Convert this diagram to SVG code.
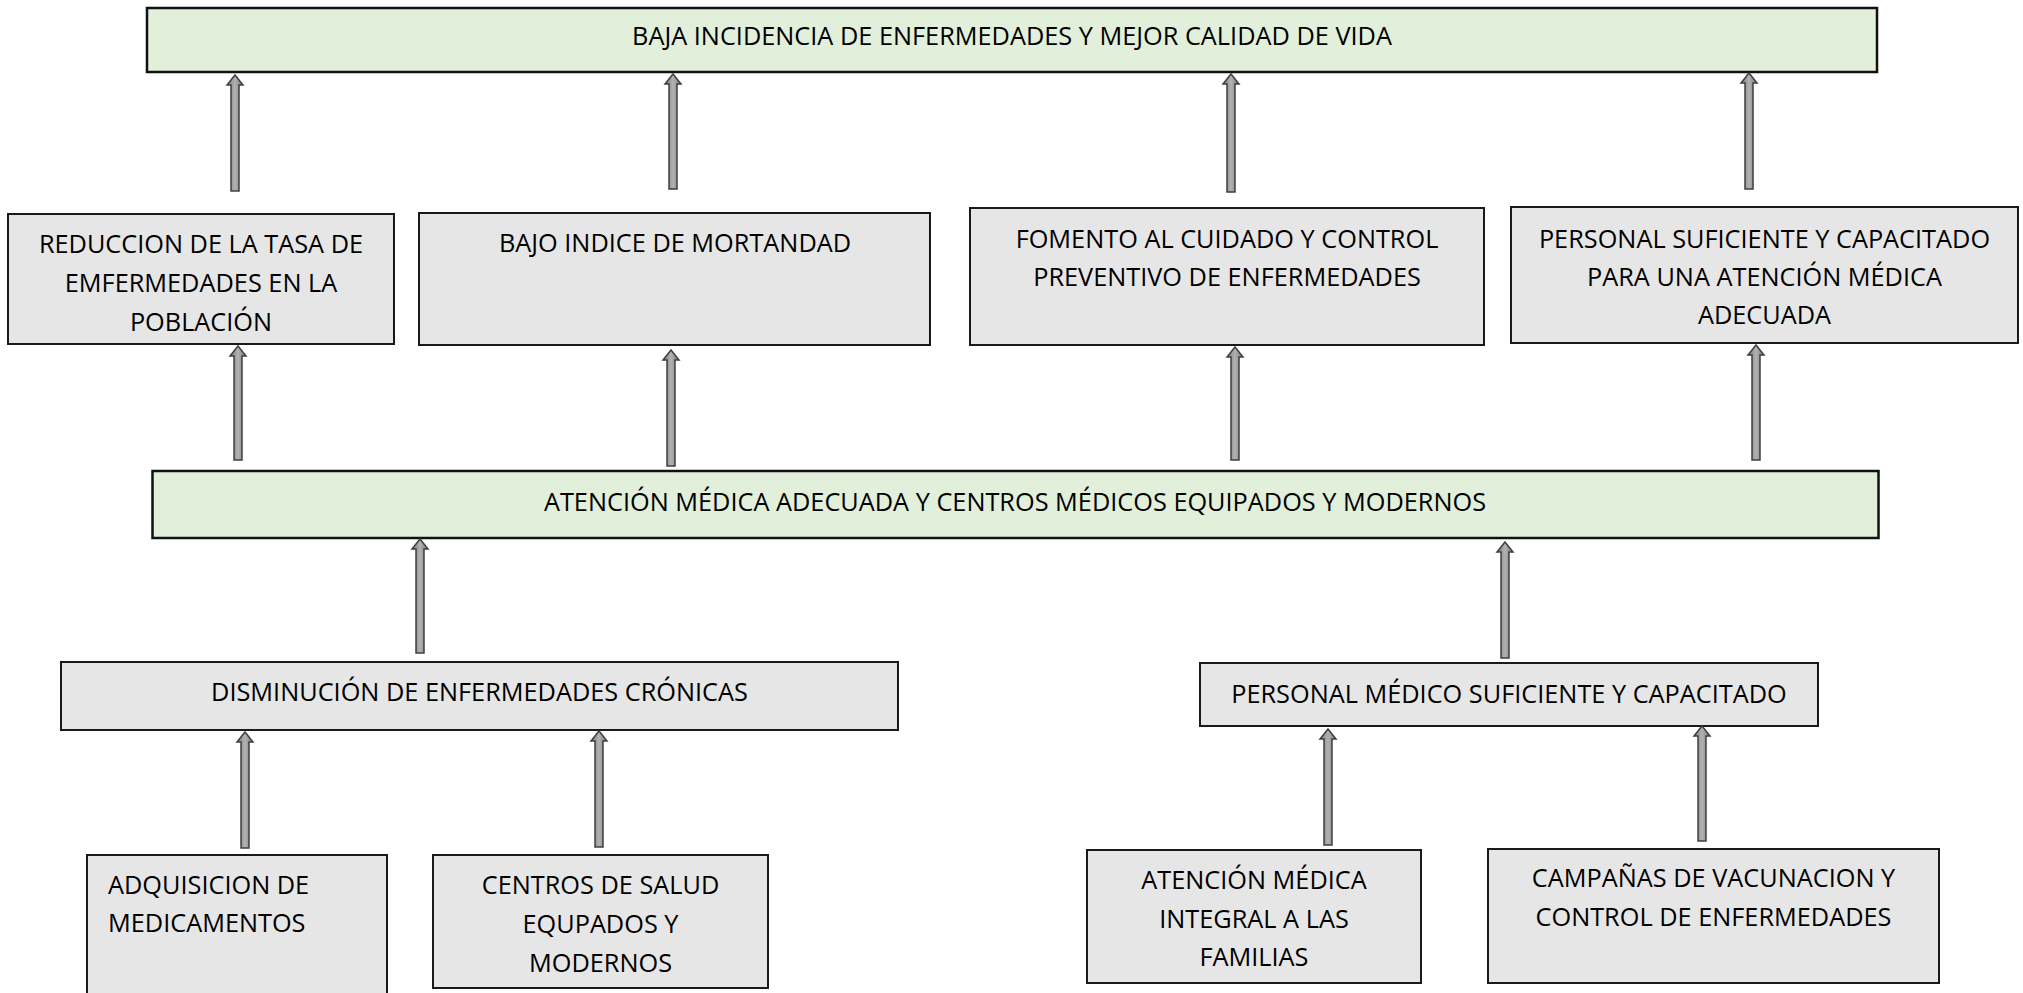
<svg xmlns="http://www.w3.org/2000/svg" width="2023" height="993" viewBox="0 0 2023 993">
<defs>
<linearGradient id="ag" x1="0" y1="0" x2="1" y2="0">
<stop offset="0" stop-color="#7a7a7a"/>
<stop offset="0.5" stop-color="#b2b2b2"/>
<stop offset="1" stop-color="#7a7a7a"/>
</linearGradient>
<style>
.g{fill:#e7e6e6;stroke:#1a1a1a;stroke-width:2}
.v{fill:#e2efda;stroke:#111;stroke-width:2.5}
text{font-family:"Open Sans","Noto Sans","Liberation Sans",sans-serif;font-size:25.3px;fill:#000}
.c{text-anchor:middle}
.a{fill:url(#ag);stroke:#3f3f3f;stroke-width:1.5;stroke-linejoin:miter}
</style>
</defs>
<rect width="2023" height="993" fill="#fff"/>
<g id="n-top"><rect class="v" x="147" y="8" width="1730" height="64"/><text class="c" x="1012" y="45">BAJA INCIDENCIA DE ENFERMEDADES Y MEJOR CALIDAD DE VIDA</text></g>
<g id="n-reduccion"><rect class="g" x="8" y="214" width="386" height="130"/><text class="c" x="201" y="253">REDUCCION DE LA TASA DE</text><text class="c" x="201" y="292">EMFERMEDADES EN LA</text><text class="c" x="201" y="331">POBLACIÓN</text></g>
<g id="n-bajo"><rect class="g" x="419" y="213" width="511" height="132"/><text class="c" x="675" y="252">BAJO INDICE DE MORTANDAD</text></g>
<g id="n-fomento"><rect class="g" x="970" y="208" width="514" height="137"/><text class="c" x="1227" y="248">FOMENTO AL CUIDADO Y CONTROL</text><text class="c" x="1227" y="286">PREVENTIVO DE ENFERMEDADES</text></g>
<g id="n-personal"><rect class="g" x="1511" y="207" width="507" height="136"/><text class="c" x="1764.5" y="248">PERSONAL SUFICIENTE Y CAPACITADO</text><text class="c" x="1764.5" y="286">PARA UNA ATENCIÓN MÉDICA</text><text class="c" x="1764.5" y="324">ADECUADA</text></g>
<g id="n-mid"><rect class="v" x="152.5" y="471" width="1726" height="67"/><text class="c" x="1015" y="511">ATENCIÓN MÉDICA ADECUADA Y CENTROS MÉDICOS EQUIPADOS Y MODERNOS</text></g>
<g id="n-disminucion"><rect class="g" x="61" y="662" width="837" height="68"/><text class="c" x="479.5" y="701">DISMINUCIÓN DE ENFERMEDADES CRÓNICAS</text></g>
<g id="n-personal-medico"><rect class="g" x="1200" y="663" width="618" height="63"/><text class="c" x="1509" y="703">PERSONAL MÉDICO SUFICIENTE Y CAPACITADO</text></g>
<g id="n-adquisicion"><rect class="g" x="87" y="855" width="300" height="160"/><text x="108" y="894">ADQUISICION DE</text><text x="108" y="932">MEDICAMENTOS</text></g>
<g id="n-centros"><rect class="g" x="433" y="855" width="335" height="133"/><text class="c" x="600.5" y="894">CENTROS DE SALUD</text><text class="c" x="600.5" y="933">EQUPADOS Y</text><text class="c" x="600.5" y="972">MODERNOS</text></g>
<g id="n-atencion"><rect class="g" x="1087" y="850" width="334" height="133"/><text class="c" x="1254" y="889">ATENCIÓN MÉDICA</text><text class="c" x="1254" y="928">INTEGRAL A LAS</text><text class="c" x="1254" y="966">FAMILIAS</text></g>
<g id="n-campanas"><rect class="g" x="1488" y="849" width="451" height="134"/><text class="c" x="1713.5" y="887">CAMPAÑAS DE VACUNACION Y</text><text class="c" x="1713.5" y="926">CONTROL DE ENFERMEDADES</text></g>
<g id="connectors">
<path class="a" d="M235 75 L243 85 L239 85 L239 191 L231 191 L231 85 L227 85 Z"/>
<path class="a" d="M673 74 L681 84 L677 84 L677 189 L669 189 L669 84 L665 84 Z"/>
<path class="a" d="M1231 74 L1239 84 L1235 84 L1235 192 L1227 192 L1227 84 L1223 84 Z"/>
<path class="a" d="M1749 73 L1757 83 L1753 83 L1753 189 L1745 189 L1745 83 L1741 83 Z"/>
<path class="a" d="M238 346 L246 356 L242 356 L242 460 L234 460 L234 356 L230 356 Z"/>
<path class="a" d="M671 350 L679 360 L675 360 L675 466 L667 466 L667 360 L663 360 Z"/>
<path class="a" d="M1235 347 L1243 357 L1239 357 L1239 460 L1231 460 L1231 357 L1227 357 Z"/>
<path class="a" d="M1756 345 L1764 355 L1760 355 L1760 460 L1752 460 L1752 355 L1748 355 Z"/>
<path class="a" d="M420 539 L428 549 L424 549 L424 653 L416 653 L416 549 L412 549 Z"/>
<path class="a" d="M1505 542 L1513 552 L1509 552 L1509 658 L1501 658 L1501 552 L1497 552 Z"/>
<path class="a" d="M245 732 L253 742 L249 742 L249 848 L241 848 L241 742 L237 742 Z"/>
<path class="a" d="M599 731 L607 741 L603 741 L603 847 L595 847 L595 741 L591 741 Z"/>
<path class="a" d="M1328 729 L1336 739 L1332 739 L1332 845 L1324 845 L1324 739 L1320 739 Z"/>
<path class="a" d="M1702 726 L1710 736 L1706 736 L1706 841 L1698 841 L1698 736 L1694 736 Z"/>
</g>
</svg>
